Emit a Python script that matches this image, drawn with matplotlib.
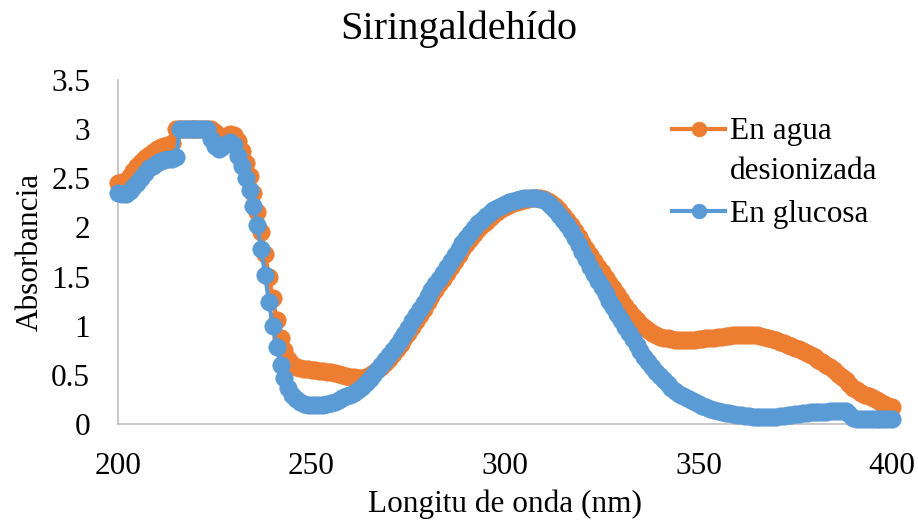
import numpy as np
import matplotlib
matplotlib.use("Agg")
from matplotlib import pyplot as plt
from matplotlib.legend_handler import HandlerLine2D
from matplotlib.ticker import FuncFormatter

plt.rcParams['font.family'] = ['Liberation Serif', 'DejaVu Serif']

# longitud de onda (nm), un punto por nm
wavelength = np.arange(200, 401)

# En agua desionizada
agua = [
    2.45, 2.46, 2.47, 2.52, 2.57, 2.62, 2.67, 2.71, 2.74, 2.77,   # 200
    2.80, 2.82, 2.83, 2.84, 2.86, 3.00, 3.00, 3.00, 3.00, 3.00,   # 210
    3.00, 3.00, 3.00, 3.00, 3.00, 2.97, 2.92, 2.91, 2.93, 2.95,   # 220
    2.94, 2.88, 2.78, 2.66, 2.52, 2.35, 2.16, 1.95, 1.73, 1.50,   # 230
    1.28, 1.06, 0.88, 0.75, 0.66, 0.61, 0.58, 0.57, 0.56, 0.555,  # 240
    0.55, 0.545, 0.54, 0.535, 0.53, 0.525, 0.52, 0.51, 0.50, 0.49,  # 250
    0.48, 0.475, 0.47, 0.47, 0.48, 0.50, 0.52, 0.55, 0.58, 0.62,  # 260
    0.66, 0.71, 0.76, 0.81, 0.87, 0.93, 0.99, 1.05, 1.11, 1.17,   # 270
    1.24, 1.30, 1.36, 1.42, 1.48, 1.54, 1.60, 1.66, 1.72, 1.78,   # 280
    1.83, 1.88, 1.93, 1.98, 2.02, 2.06, 2.10, 2.13, 2.16, 2.19,   # 290
    2.21, 2.23, 2.25, 2.26, 2.27, 2.28, 2.29, 2.30, 2.30, 2.30,   # 300
    2.29, 2.27, 2.25, 2.22, 2.18, 2.13, 2.08, 2.02, 1.96, 1.90,   # 310
    1.84, 1.78, 1.72, 1.66, 1.60, 1.545, 1.49, 1.435, 1.38, 1.32,  # 320
    1.26, 1.205, 1.15, 1.10, 1.06, 1.02, 0.99, 0.96, 0.93, 0.91,  # 330
    0.89, 0.88, 0.87, 0.86, 0.85, 0.85, 0.85, 0.85, 0.85, 0.855,  # 340
    0.86, 0.865, 0.87, 0.875, 0.88, 0.885, 0.89, 0.895, 0.90, 0.905,  # 350
    0.91, 0.91, 0.91, 0.91, 0.91, 0.905, 0.90, 0.89, 0.88, 0.865,  # 360
    0.85, 0.835, 0.82, 0.805, 0.79, 0.775, 0.76, 0.74, 0.72, 0.70,  # 370
    0.68, 0.655, 0.63, 0.605, 0.58, 0.545, 0.51, 0.48, 0.45, 0.41,  # 380
    0.37, 0.345, 0.32, 0.30, 0.28, 0.26, 0.24, 0.22, 0.20, 0.185,  # 390
    0.17,                                                          # 400
]

# En glucosa
glucosa = [
    2.35, 2.34, 2.34, 2.37, 2.41, 2.45, 2.50, 2.55, 2.60, 2.63,   # 200
    2.66, 2.68, 2.69, 2.70, 2.70, 2.72, 3.00, 3.00, 3.00, 3.00,   # 210
    3.00, 3.00, 3.00, 3.00, 2.90, 2.83, 2.80, 2.82, 2.85, 2.87,   # 220
    2.84, 2.73, 2.62, 2.50, 2.38, 2.22, 2.02, 1.78, 1.52, 1.24,   # 230
    1.00, 0.78, 0.60, 0.47, 0.37, 0.30, 0.25, 0.22, 0.20, 0.19,   # 240
    0.19, 0.19, 0.19, 0.19, 0.20, 0.21, 0.22, 0.24, 0.26, 0.28,   # 250
    0.30, 0.32, 0.35, 0.38, 0.42, 0.46, 0.50, 0.55, 0.60, 0.65,   # 260
    0.70, 0.75, 0.80, 0.86, 0.92, 0.98, 1.05, 1.11, 1.17, 1.23,   # 270
    1.30, 1.36, 1.42, 1.48, 1.54, 1.60, 1.66, 1.72, 1.78, 1.84,   # 280
    1.89, 1.94, 1.99, 2.04, 2.08, 2.12, 2.15, 2.18, 2.20, 2.22,   # 290
    2.24, 2.26, 2.27, 2.28, 2.29, 2.30, 2.30, 2.30, 2.30, 2.29,   # 300
    2.28, 2.25, 2.22, 2.18, 2.13, 2.08, 2.02, 1.96, 1.89, 1.82,   # 310
    1.75, 1.68, 1.60, 1.53, 1.46, 1.39, 1.32, 1.25, 1.19, 1.12,   # 320
    1.06, 0.99, 0.93, 0.86, 0.80, 0.74, 0.68, 0.63, 0.58, 0.53,   # 330
    0.49, 0.45, 0.41, 0.37, 0.34, 0.31, 0.28, 0.26, 0.24, 0.22,   # 340
    0.20, 0.18, 0.17, 0.15, 0.14, 0.13, 0.12, 0.11, 0.11, 0.10,   # 350
    0.09, 0.09, 0.08, 0.08, 0.07, 0.07, 0.07, 0.07, 0.07, 0.07,   # 360
    0.07, 0.08, 0.08, 0.09, 0.09, 0.10, 0.10, 0.11, 0.11, 0.12,   # 370
    0.12, 0.12, 0.12, 0.12, 0.13, 0.13, 0.13, 0.13, 0.13, 0.10,   # 380
    0.06, 0.05, 0.05, 0.05, 0.05, 0.05, 0.05, 0.05, 0.05, 0.05,   # 390
    0.05,                                                          # 400
]

naranja = '#ED7D31'
azul = '#5B9BD5'
fs = 22.5


class FirstLineHandler(HandlerLine2D):
    # pone la muestra de la leyenda a la altura de la primera linea del texto
    def __init__(self, lift, **kw):
        super().__init__(**kw)
        self.lift = lift

    def create_artists(self, legend, orig_handle, xdescent, ydescent,
                       width, height, fontsize, trans):
        arts = super().create_artists(legend, orig_handle, xdescent, ydescent,
                                      width, height, fontsize, trans)
        for a in arts:
            a.set_ydata(np.asarray(a.get_ydata()) + self.lift)
        return arts


fig = plt.figure(figsize=(9.18, 5.30), dpi=100)
ax = fig.add_axes([118/918, 1 - 424/530, 774/918, 344/530])

l1, = ax.plot(wavelength, agua, color=naranja, lw=3, marker='o', ms=12.5,
              mec=naranja, mew=0.5, clip_on=False, zorder=3,
              label='En agua\ndesionizada')
l2, = ax.plot(wavelength, glucosa, color=azul, lw=3, marker='o', ms=12.5,
              mec=azul, mew=0.5, clip_on=False, zorder=4,
              label='En glucosa')

ax.set_xlim(200, 400)
ax.set_ylim(0, 3.5)
ax.set_xticks(np.arange(200, 401, 50))
ax.set_yticks(np.arange(0, 3.51, 0.5))
ax.yaxis.set_major_formatter(FuncFormatter(lambda v, p: f'{v:g}'))
ax.tick_params(length=0, pad=20, labelsize=fs)
for s in ['top', 'right']:
    ax.spines[s].set_visible(False)
for s in ['left', 'bottom']:
    ax.spines[s].set_color('#BFBFBF')
    ax.spines[s].set_linewidth(1.2)

ax.set_xlabel('Longitu de onda (nm)', fontsize=fs)
ax.xaxis.set_label_coords(0.5, (424 - 512) / 344)
ax.xaxis.label.set_verticalalignment('baseline')
ax.set_ylabel('Absorbancia', fontsize=fs)
ax.yaxis.set_label_coords((38 - 118) / 774, 0.5)
ax.yaxis.label.set_verticalalignment('baseline')

fig.text(0.5, 1 - 39/530, 'Siringaldehído', ha='center', va='baseline',
         fontsize=29)

leg = ax.legend(handles=[l1, l2], loc='upper left',
                bbox_to_anchor=(672/918, 1 - 117/530),
                bbox_transform=fig.transFigure, frameon=False, fontsize=fs,
                handlelength=1.7, handletextpad=0.15, labelspacing=0.45,
                borderpad=0, borderaxespad=0,
                handler_map={l1: FirstLineHandler(lift=16)},
                markerscale=0.85)
leg.texts[0].set_linespacing(1.5)

fig.savefig('out.png', dpi=100)
